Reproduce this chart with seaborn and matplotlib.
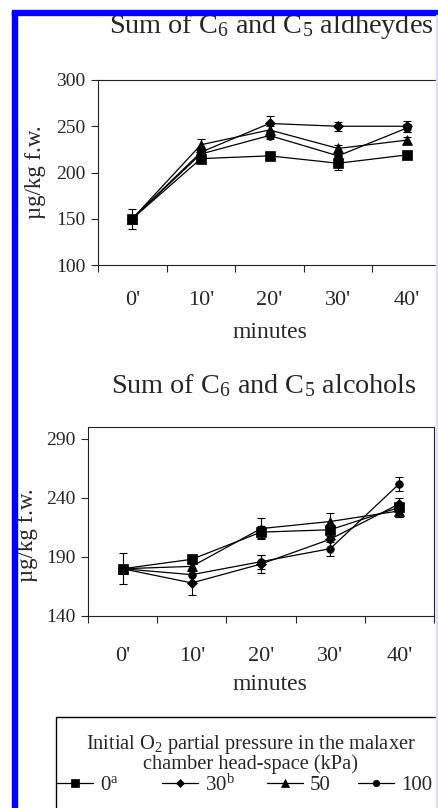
import matplotlib
matplotlib.use("Agg")
import matplotlib.pyplot as plt
from matplotlib.patches import Rectangle
import seaborn as sns
import numpy as np

# ---------------- data ----------------
times = ["0'", "10'", "20'", "30'", "40'"]
series_labels = ["0$^a$", "30$^b$", "50", "100"]
series_markers = ["s", "D", "^", "o"]
series_msizes = [6.5, 4.6, 7.0, 5.5]

# Sum of C6 and C5 aldehydes (µg/kg f.w.)
ald_0 = [150, 215, 218, 210, 219]
ald_30 = [150, 222, 253, 250, 250]
ald_50 = [150, 230, 246, 226, 235]
ald_100 = [150, 220, 240, 218, 248]
ald_err_0 = [11, 3, 3, 7, 3]
ald_err_30 = [0, 0, 8, 5, 6]
ald_err_50 = [0, 6, 4, 4, 3]
ald_err_100 = [0, 3, 4, 4, 4]

# Sum of C6 and C5 alcohols (µg/kg f.w.)
alc_0 = [180, 188, 211, 213, 232]
alc_30 = [180, 168, 184, 205, 235]
alc_50 = [180, 182, 214, 220, 229]
alc_100 = [180, 175, 186, 197, 252]
alc_err_0 = [13, 3, 5, 5, 8]
alc_err_30 = [0, 10, 8, 0, 0]
alc_err_50 = [0, 0, 9, 7, 5]
alc_err_100 = [0, 0, 6, 6, 6]

ald_ticks = [100, 150, 200, 250, 300]
alc_ticks = [140, 190, 240, 290]

# ---------------- style ----------------
sns.set_style("ticks")
plt.rcParams["font.family"] = ["Liberation Serif", "DejaVu Serif"]
plt.rcParams["mathtext.fontset"] = "custom"
plt.rcParams["mathtext.rm"] = "Liberation Serif"
plt.rcParams["mathtext.it"] = "Liberation Serif:italic"
plt.rcParams["mathtext.default"] = "regular"

W, H = 439, 808
fig = plt.figure(figsize=(W / 100, H / 100), dpi=100)
fig.patch.set_facecolor("white")


def fx(x):
    return x / W


def fy(y):
    return 1 - y / H


def make_axes(x0, x1, y0, y1):
    return fig.add_axes([fx(x0), fy(y1), fx(x1) - fx(x0), fy(y0) - fy(y1)])


def draw_panel(ax, vals, errs, yticks, ylim, xpad):
    handles = []
    for v, e, m, ms, lab in zip(vals, errs, series_markers, series_msizes, series_labels):
        sns.lineplot(x=times, y=v, ax=ax, color="black", lw=0.9, marker=m,
                     markersize=ms, markeredgecolor="black", markerfacecolor="black",
                     markeredgewidth=0.5, label=lab, legend=False, sort=False)
        handles.append(ax.lines[-1])
        idx = [i for i, ee in enumerate(e) if ee > 0]
        ax.errorbar([times[i] for i in idx], [v[i] for i in idx], yerr=[e[i] for i in idx],
                    fmt="none", ecolor="black", elinewidth=0.8, capsize=3, capthick=0.8)
    ax.set_xlim(-0.5, len(times) - 0.5)
    ax.set_ylim(*ylim)
    ax.set_yticks(yticks)
    ax.set_xticks(np.arange(-0.5, len(times), 1.0))
    ax.set_xticklabels([])
    ax.set_xticks(np.arange(len(times)), minor=True)
    ax.set_xticklabels(times, minor=True)
    ax.tick_params(axis="x", which="major", length=5, width=0.8, direction="out")
    ax.tick_params(axis="x", which="minor", length=0, pad=xpad, labelsize=16)
    ax.tick_params(axis="y", length=5, width=0.8, direction="out", labelsize=14, pad=4)
    for s in ax.spines.values():
        s.set_visible(True)
        s.set_linewidth(0.8)
        s.set_color("#222222")
    ax.set_xlabel("")
    ax.set_ylabel("")
    ax.set_facecolor("white")
    return handles


# ---------------- top panel ----------------
ax1 = make_axes(98, 441, 80, 265)
handles = draw_panel(ax1, [ald_0, ald_30, ald_50, ald_100],
                     [ald_err_0, ald_err_30, ald_err_50, ald_err_100],
                     ald_ticks, (100, 300), 18.6)
fig.text(fx(271), fy(33), "Sum of C$_6$ and C$_5$ aldheydes", ha="center", va="baseline", fontsize=20.3)
fig.text(fx(270), fy(338), "minutes", ha="center", va="baseline", fontsize=17)
fig.text(fx(36), fy(172), "µg/kg f.w.", ha="center", va="center", rotation=90, fontsize=16.5)

# ---------------- bottom panel ----------------
ax2 = make_axes(88, 434, 427, 616)
draw_panel(ax2, [alc_0, alc_30, alc_50, alc_100],
           [alc_err_0, alc_err_30, alc_err_50, alc_err_100],
           alc_ticks, (140, 300), 22.6)
fig.text(fx(264), fy(393), "Sum of C$_6$ and C$_5$ alcohols", ha="center", va="baseline", fontsize=20.3)
fig.text(fx(270), fy(690), "minutes", ha="center", va="baseline", fontsize=17)
fig.text(fx(28), fy(535), "µg/kg f.w.", ha="center", va="center", rotation=90, fontsize=16.5)

# ---------------- legend ----------------
fig.patches.append(Rectangle((fx(56), fy(830)), 1.2, fy(717) - fy(830), transform=fig.transFigure,
                             fill=False, edgecolor="black", lw=1.0, zorder=5))
fig.text(fx(251), fy(744), "Initial O$_2$ partial pressure in the malaxer", ha="center", va="center", fontsize=14.7)
fig.text(fx(251), fy(764), "chamber head-space (kPa)", ha="center", va="center", fontsize=14.7)
legend_x = [57, 162, 267, 358]
for h, lab, lx in zip(handles, series_labels, legend_x):
    fig.legend([h], [lab], loc="center left", bbox_to_anchor=(fx(lx), fy(785)),
               frameon=False, fontsize=15, handlelength=1.73, handletextpad=0.34,
               borderpad=0, borderaxespad=0, markerscale=0.85)

# ---------------- page borders ----------------
fig.patches.append(Rectangle((fx(12), 0), fx(17) - fx(12), fy(11), transform=fig.transFigure,
                             color="#0000ff", zorder=10))
fig.patches.append(Rectangle((fx(12), fy(15)), fx(437) - fx(12), fy(10) - fy(15),
                             transform=fig.transFigure, color="#0000ff", zorder=10))
fig.patches.append(Rectangle((fx(436), 0), 1, fy(15), transform=fig.transFigure,
                             color="#dcdcff", zorder=10))

fig.savefig("out.png", dpi=100, facecolor="white")
